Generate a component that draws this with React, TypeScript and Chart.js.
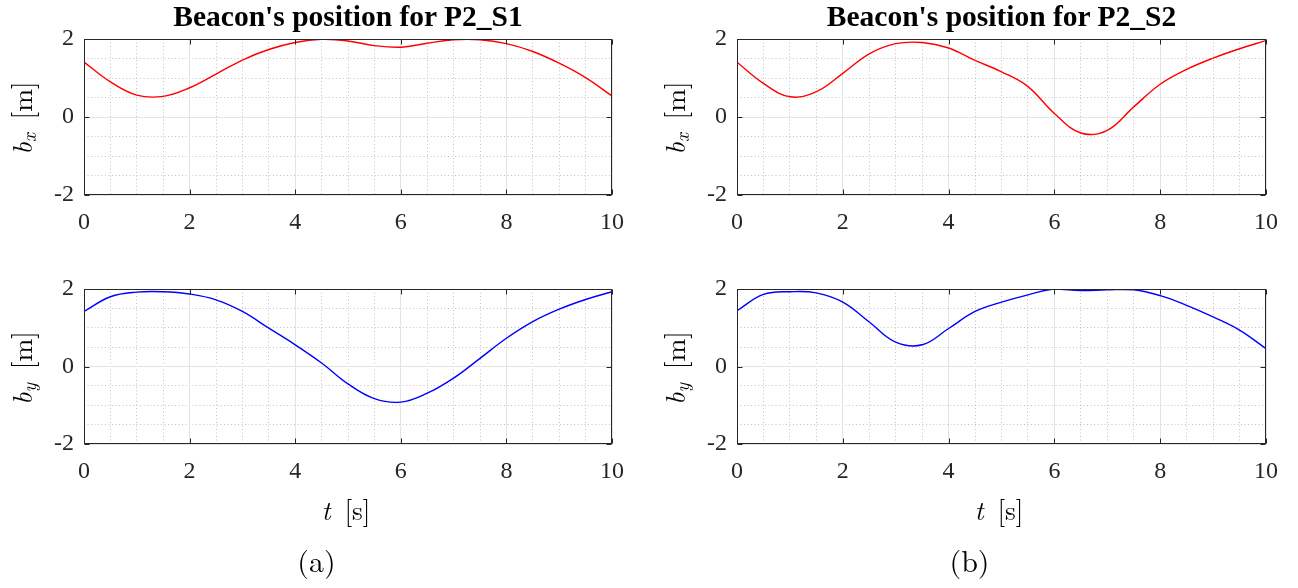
import React, { useEffect, useRef } from "react";
import { Chart, registerables } from "chart.js";
Chart.register(...registerables);

// ---------- data (t sampled every 0.5 s) ----------
const tS = [0, 0.5, 1, 1.5, 2, 2.5, 3, 3.5, 4, 4.5, 5, 5.5, 6, 6.5, 7, 7.5, 8, 8.5, 9, 9.5, 10];
const bS1x = [1.41, 0.9, 0.56, 0.53, 0.75, 1.1, 1.46, 1.73, 1.91, 1.99, 1.95, 1.83, 1.79, 1.89, 1.98, 1.98, 1.88, 1.68, 1.38, 1.01, 0.54];
const bS1y = [1.42, 1.8, 1.92, 1.93, 1.87, 1.72, 1.42, 0.99, 0.56, 0.09, -0.45, -0.83, -0.92, -0.69, -0.3, 0.21, 0.73, 1.16, 1.48, 1.73, 1.93];
const bS2x = [1.405, 0.86, 0.52, 0.65, 1.12, 1.62, 1.88, 1.91, 1.77, 1.45, 1.16, 0.78, 0.09, -0.41, -0.34, 0.26, 0.84, 1.22, 1.51, 1.75, 1.96];
const bS2y = [1.44, 1.86, 1.93, 1.9, 1.66, 1.15, 0.63, 0.56, 0.98, 1.42, 1.66, 1.85, 2.0, 1.96, 1.98, 1.98, 1.83, 1.58, 1.28, 0.94, 0.46];

const xTicks = [0, 2, 4, 6, 8, 10];
const yTicks = [-2, 0, 2];
const xMinorTicks = [0, 0.5, 1, 1.5, 2, 2.5, 3, 3.5, 4, 4.5, 5, 5.5, 6, 6.5, 7, 7.5, 8, 8.5, 9, 9.5, 10];
const yMinorTicks = [-2, -1.5, -1, -0.5, 0, 0.5, 1, 1.5, 2];

const titles = ["Beacon's position for P2_S1", "Beacon's position for P2_S2"];
const captions = ["(a)", "(b)"];

// ---------- style ----------
const PL = 70, PT = 32, PR = 40, PB = 50;
const AXIS_COLOR = "#262626";
const MAJOR_GRID = "#e3e3e3";
const MINOR_GRID = "#c2c2c2";
const SERIF = "'Liberation Serif', 'Times New Roman', serif";
const LATEX = "'Latin Modern Roman', 'Liberation Serif', serif";

const framePlugin = {
  id: "frame",
  afterDatasetsDraw(chart: any) {
    const { ctx, chartArea: a, scales } = chart;
    const L = Math.round(a.left) + 0.5, R = Math.round(a.right) - 0.5;
    const T = Math.round(a.top) + 0.5, B = Math.round(a.bottom) - 0.5;
    ctx.save();
    ctx.strokeStyle = AXIS_COLOR;
    ctx.lineWidth = 1;
    const tl = 5;
    ctx.beginPath();
    for (const tk of scales.x.ticks) {
      const px = Math.round(scales.x.getPixelForValue(tk.value)) + 0.5;
      ctx.moveTo(px, B); ctx.lineTo(px, B - tl);
      ctx.moveTo(px, T); ctx.lineTo(px, T + tl);
    }
    for (const tk of scales.y.ticks) {
      const py = Math.round(scales.y.getPixelForValue(tk.value)) + 0.5;
      ctx.moveTo(L, py); ctx.lineTo(L + tl, py);
      ctx.moveTo(R, py); ctx.lineTo(R - tl, py);
    }
    ctx.stroke();
    ctx.strokeRect(L, T, R - L, B - T);
    ctx.restore();
  },
};

function makeConfig(t: number[], v: number[], color: string): any {
  const tickFont = { family: SERIF, size: 24 };
  return {
    type: "line",
    data: {
      datasets: [
        {
          data: t.map((x, i) => ({ x, y: v[i] })),
          borderColor: color,
          borderWidth: 1.4,
          pointRadius: 0,
          tension: 0.4,
          fill: false,
        },
      ],
    },
    options: {
      animation: false,
      responsive: false,
      events: [],
      layout: { padding: { left: 0, top: PT, right: PR, bottom: 0 } },
      plugins: { legend: { display: false }, tooltip: { enabled: false }, title: { display: false } },
      scales: {
        xm: {
          type: "linear", position: "bottom", min: 0, max: 10,
          afterBuildTicks: (s: any) => { s.ticks = xMinorTicks.map((value) => ({ value })); },
          ticks: { display: false },
          grid: { color: MINOR_GRID, drawTicks: false, lineWidth: 1 },
          border: { display: false, dash: [1, 2.5] },
          afterFit: (s: any) => { s.height = 0; },
        },
        ym: {
          type: "linear", position: "left", min: -2, max: 2,
          afterBuildTicks: (s: any) => { s.ticks = yMinorTicks.map((value) => ({ value })); },
          ticks: { display: false },
          grid: { color: MINOR_GRID, drawTicks: false, lineWidth: 1 },
          border: { display: false, dash: [1, 2.5] },
          afterFit: (s: any) => { s.width = 0; },
        },
        x: {
          type: "linear", position: "bottom", min: 0, max: 10,
          afterBuildTicks: (s: any) => { s.ticks = xTicks.map((value) => ({ value })); },
          ticks: { font: tickFont, color: AXIS_COLOR, padding: 13, maxRotation: 0, autoSkip: false },
          grid: { color: MAJOR_GRID, drawTicks: false, lineWidth: 1 },
          border: { display: false },
          afterFit: (s: any) => { s.height = PB; },
        },
        y: {
          type: "linear", position: "left", min: -2, max: 2,
          afterBuildTicks: (s: any) => { s.ticks = yTicks.map((value) => ({ value })); },
          ticks: { font: tickFont, color: AXIS_COLOR, padding: 10, autoSkip: false },
          grid: { color: MAJOR_GRID, drawTicks: false, lineWidth: 1 },
          border: { display: false },
          afterFit: (s: any) => { s.width = PL; },
        },
      },
    },
    plugins: [framePlugin],
  };
}

function Plot(props: { t: number[]; v: number[]; color: string; left: number; top: number; right: number; bottom: number }) {
  const ref = useRef<HTMLCanvasElement>(null);
  const w = props.right - props.left + PL + PR;
  const h = props.bottom - props.top + PT + PB;
  useEffect(() => {
    if (!ref.current) return;
    const chart = new Chart(ref.current, makeConfig(props.t, props.v, props.color));
    return () => chart.destroy();
  }, []);
  return (
    <canvas
      ref={ref}
      width={w}
      height={h}
      style={{ position: "absolute", left: props.left - PL, top: props.top - PT, width: w, height: h }}
    />
  );
}

function Txt(props: { x: number; y: number; size: number; family: string; rotate?: boolean; bold?: boolean; children: any }) {
  return (
    <div
      style={{
        position: "absolute",
        left: props.x,
        top: props.y,
        transform: `translate(-50%, -50%)${props.rotate ? " rotate(-90deg)" : ""}`,
        fontFamily: props.family,
        fontSize: props.size,
        fontWeight: props.bold ? "bold" : "normal",
        lineHeight: 1,
        whiteSpace: "nowrap",
        color: "#000",
      }}
    >
      {props.children}
    </div>
  );
}

function YLabel(props: { sub: string }) {
  return (
    <span>
      <i>b</i>
      <sub style={{ fontSize: "0.7em", verticalAlign: "-0.22em", lineHeight: 0 }}>
        <i>{props.sub}</i>
      </sub>
      {"\u2002[m]"}
    </span>
  );
}

export default function App() {
  const panels = [
    { dx: 0, bx: bS1x, by: bS1y },
    { dx: 653, bx: bS2x, by: bS2y },
  ];
  return (
    <div style={{ position: "absolute", left: 0, top: 0, width: 1298, height: 588, background: "#fff" }}>
      {panels.map((p, i) => {
        const L = 84 + p.dx;
        const R = 612 + p.dx + (i === 1 ? 1 : 0);
        return (
          <React.Fragment key={i}>
            <Plot t={tS} v={p.bx} color="#ff0000" left={L} top={39} right={R} bottom={195} />
            <Plot t={tS} v={p.by} color="#0000ff" left={L} top={289} right={R} bottom={444} />
            <Txt x={(L + R) / 2} y={16.8} size={29.5} family={SERIF} bold>
              {titles[i]}
            </Txt>
            <Txt x={21 + p.dx} y={118} size={27.5} family={LATEX} rotate>
              <YLabel sub="x" />
            </Txt>
            <Txt x={21 + p.dx} y={368} size={27.5} family={LATEX} rotate>
              <YLabel sub="y" />
            </Txt>
            <Txt x={346 + p.dx} y={508.5} size={27.5} family={LATEX}>
              <i>t</i>
              {"\u2002[s]"}
            </Txt>
            <Txt x={316.5 + p.dx} y={559.5} size={30} family={LATEX}>
              {captions[i]}
            </Txt>
          </React.Fragment>
        );
      })}
    </div>
  );
}
